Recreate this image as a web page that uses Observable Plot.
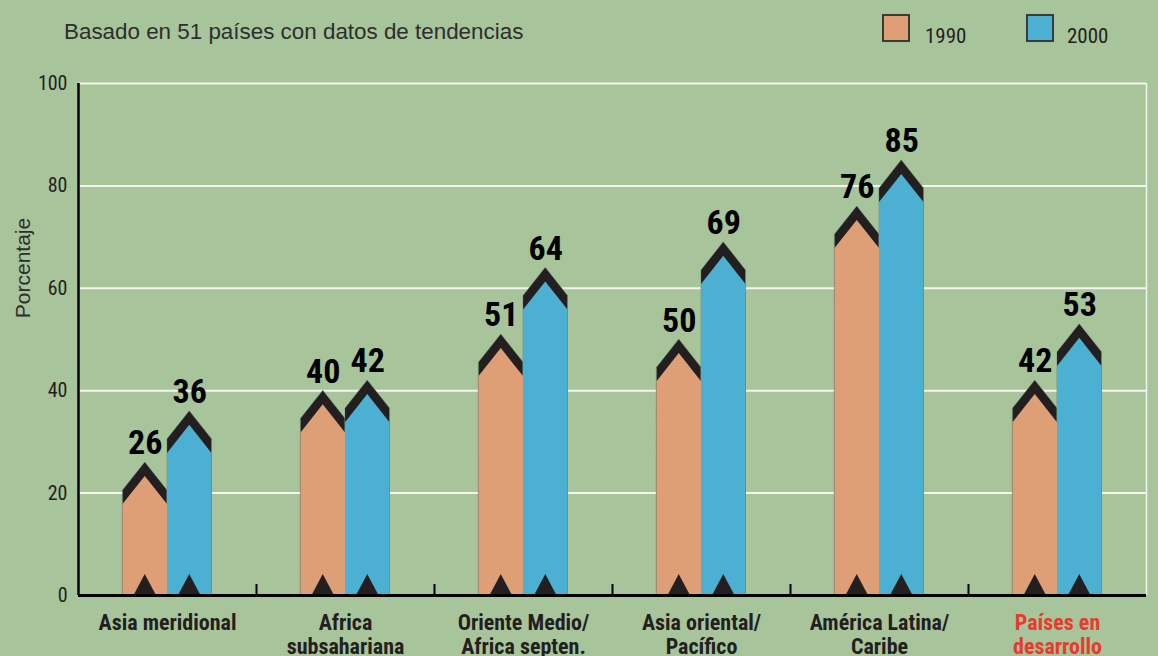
<!DOCTYPE html>
<html>
<head>
<meta charset="utf-8">
<script src="https://cdn.jsdelivr.net/npm/d3@7"></script>
<script src="https://cdn.jsdelivr.net/npm/@observablehq/plot@0.6"></script>
<style>
  html, body { margin: 0; padding: 0; background: #a8c49b; }
  #wrap { position: relative; width: 1158px; height: 656px; overflow: hidden; background: #a8c49b; }
  #wrap svg { position: absolute; left: 0; top: 0; }
  .title { position: absolute; left: 64px; top: 21px; font: 22.4px "Liberation Sans", Arial, sans-serif; color: #2e2e2e; line-height: 22px; white-space: nowrap; }
  .ylab { position: absolute; left: 22px; top: 268px; transform: translate(-50%, -50%) rotate(-90deg); font: 21px "Liberation Sans", Arial, sans-serif; color: #2e2e2e; line-height: 21px; white-space: nowrap; }
  .sw { position: absolute; top: 14px; width: 28px; height: 28px; box-sizing: border-box; border: 2px solid #3a3a3a; }
  .lt { position: absolute; top: 25px; font: 21px "Roboto Condensed", sans-serif; color: #231f20; line-height: 22px; }
</style>
</head>
<body>
<div id="wrap"></div>
<script>
// ---- data ----
const groups = ["Asia meridional", "Africa subsahariana", "Oriente Medio/ Africa septen.", "Asia oriental/ Pacífico", "América Latina/ Caribe", "Países en desarrollo"];
const groupLabels = ["Asia meridional", "Africa\nsubsahariana", "Oriente Medio/\nAfrica septen.", "Asia oriental/\nPacífico", "América Latina/\nCaribe", "Países en\ndesarrollo"];
const years = ["1990", "2000"];
const v1990 = [26, 40, 51, 50, 76, 42];
const v2000 = [36, 42, 64, 69, 85, 53];
const yTicks = [0, 20, 40, 60, 80, 100];
const yearColors = ["#df9f76", "#4bb0d2"];
const titleText = "Basado en 51 países con datos de tendencias";
const yLabel = "Porcentaje";

// ---- derived tables ----
const K = 5.5;   // chevron drop (data units)
const T = 2.75;  // chevron band thickness
const TH = 4.1;  // bottom triangle height
const TW = 0.125; // bottom triangle half width (facet x units)
const bars = [];
groups.forEach((g, i) => {
  [[years[0], v1990[i], -0.5], [years[1], v2000[i], 0]].forEach(([yr, v, x0]) => {
    bars.push({g, yr, v, x0, xc: x0 + 0.25, x1: x0 + 0.5});
  });
});
const outline = bars.flatMap(b => [
  {g: b.g, yr: b.yr, k: b.g + b.yr, x: b.x0, top: b.v - K},
  {g: b.g, yr: b.yr, k: b.g + b.yr, x: b.xc, top: b.v},
  {g: b.g, yr: b.yr, k: b.g + b.yr, x: b.x1, top: b.v - K}
]);
const tri = bars.flatMap(b => [
  {g: b.g, k: b.g + b.yr, x: b.xc - TW, y: 0},
  {g: b.g, k: b.g + b.yr, x: b.xc, y: TH},
  {g: b.g, k: b.g + b.yr, x: b.xc + TW, y: 0}
]);
const labelRows = groups.map((g, i) => ({g, label: groupLabels[i], red: i === groups.length - 1}));
const sepRows = groups.slice(0, -1).map(g => ({g, x: 1}));

const dark = "#231f20";
const condensed = '"Roboto Condensed", sans-serif';

const chart = Plot.plot({
  width: 1158,
  height: 656,
  marginLeft: 76,
  marginRight: 10,
  marginTop: 83,
  marginBottom: 61,
  style: {background: "transparent", fontFamily: condensed, color: dark, overflow: "visible"},
  fx: {domain: groups, padding: 0, axis: null},
  x: {domain: [-1, 1], axis: null},
  y: {domain: [0, 100], axis: null},
  color: {domain: years, range: yearColors},
  marks: [
    Plot.ruleY(yTicks.filter(d => d > 0), {stroke: "#f4f4ee", strokeWidth: 2}),
    Plot.ruleX([{g: groups[groups.length - 1], x: 1}], {fx: "g", x: "x", y1: 0, y2: 100, stroke: "#f4f4ee", strokeWidth: 1.5}),
    Plot.areaY(outline, {fx: "g", x: "x", y1: 0, y2: "top", z: "k", fill: dark, curve: "linear", stroke: "#6e8c7c", strokeWidth: 0.8, strokeOpacity: 0.6}),
    Plot.areaY(outline, {fx: "g", x: "x", y1: 0, y2: d => d.top - T, z: "k", fill: "yr", curve: "linear"}),
    Plot.areaY(tri, {fx: "g", x: "x", y1: 0, y2: "y", z: "k", fill: dark, curve: "linear"}),
    Plot.text(bars, {fx: "g", x: "xc", y: "v", text: d => String(d.v), lineAnchor: "bottom", dy: -8, fontSize: 34, fontWeight: "bold", fill: "#000"}),
    Plot.ruleX(sepRows, {fx: "g", x: "x", y1: 0, y2: 2.15, stroke: "#000", strokeWidth: 2}),
    Plot.ruleY([0], {stroke: "#000", strokeWidth: 3}),
    Plot.ruleX([{g: groups[0], x: -1}], {fx: "g", x: "x", y1: 0, y2: 100, stroke: "#000", strokeWidth: 2.5}),
    Plot.axisY({ticks: yTicks, tickSize: 0, tickPadding: 11, fontSize: 20, label: null, fill: dark}),
    Plot.text(labelRows.filter(d => !d.red), {fx: "g", frameAnchor: "bottom", text: "label", lineAnchor: "top", dy: 17, lineHeight: 1.1, fontSize: 22, fontWeight: "bold", fill: dark}),
    Plot.text(labelRows.filter(d => d.red), {fx: "g", frameAnchor: "bottom", text: "label", lineAnchor: "top", dy: 17, lineHeight: 1.1, fontSize: 22, fontWeight: "bold", fill: "#e63b2e"})
  ]
});

const wrap = document.getElementById("wrap");
wrap.appendChild(chart);

function addDiv(cls, text, styles) {
  const d = document.createElement("div");
  d.className = cls;
  if (text) d.textContent = text;
  Object.assign(d.style, styles || {});
  wrap.appendChild(d);
  return d;
}
addDiv("title", titleText);
addDiv("ylab", yLabel);
addDiv("sw", "", {left: "882px", background: yearColors[0]});
addDiv("lt", years[0], {left: "925px"});
addDiv("sw", "", {left: "1026px", background: yearColors[1]});
addDiv("lt", years[1], {left: "1067px"});
</script>
</body>
</html>
